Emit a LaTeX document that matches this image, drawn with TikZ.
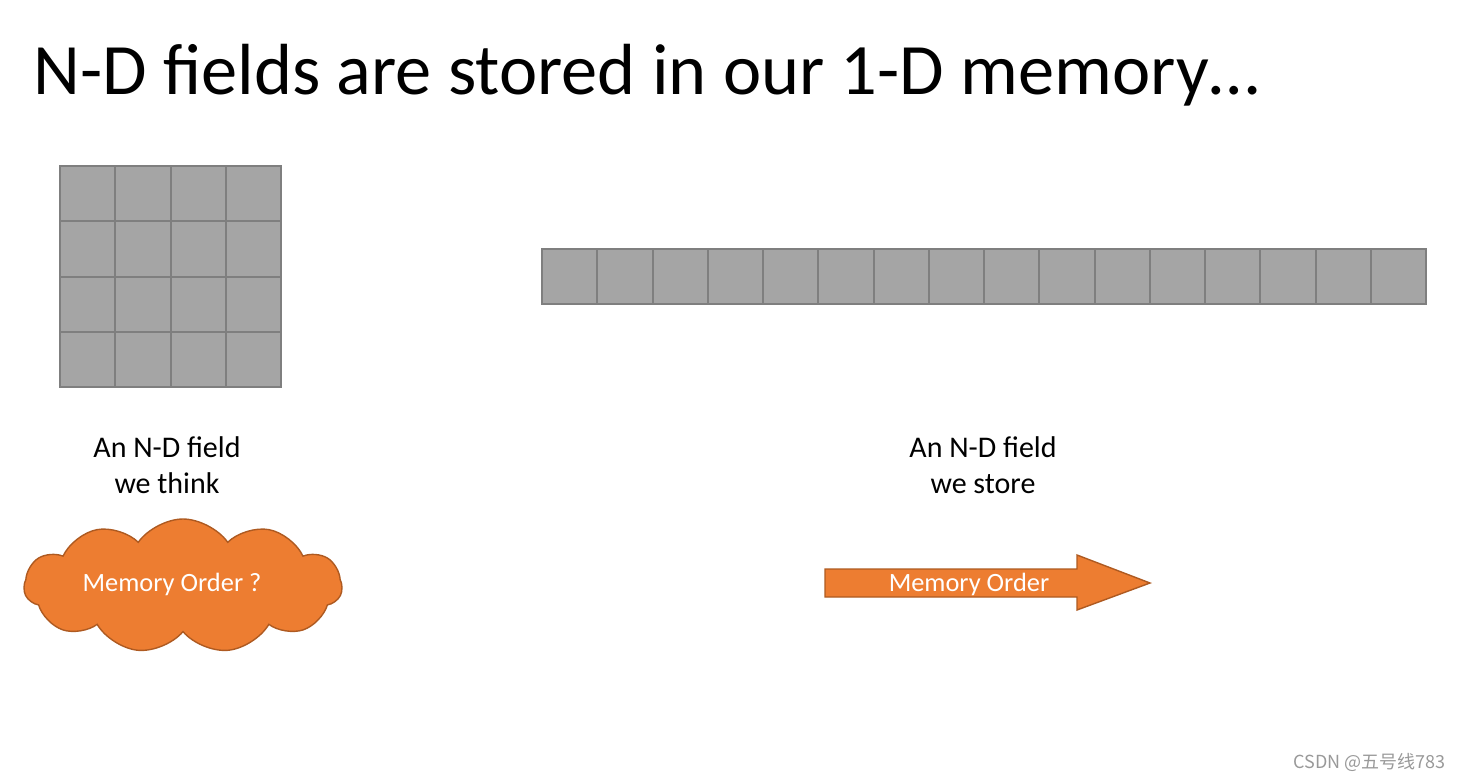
\documentclass[tikz,border=0pt]{standalone}
\usepackage{fontspec}
\setmainfont{Carlito}
\newfontfamily\cjk{Noto Sans CJK SC}
\usepackage{xcolor}
\usetikzlibrary{shapes.symbols, positioning, calc}

\definecolor{cellgray}{HTML}{A5A5A5}
\definecolor{celledge}{HTML}{7F7F7F}
\definecolor{memorange}{HTML}{ED7D31}
\definecolor{memedge}{HTML}{AE5A21}

\begin{document}
\begin{tikzpicture}[x=0.5pt, y=-0.5pt]
  \tikzstyle{cell} = [draw=celledge, fill=cellgray, line width=1pt]
  \tikzstyle{caption} = [align=center, font=\fontsize{15}{18}\selectfont]
  \tikzstyle{memtext} = [text=white, font=\fontsize{13.2}{15}\selectfont]
  \useasboundingbox (0,0) rectangle (1461,781);

  \node[anchor=base west, inner sep=0pt, font=\fontsize{36.2}{40}\selectfont] (Title) at (33,95)
    {N-D fields are stored in our 1-D memory…};

  % the field we think of
  \foreach \i in {0,...,3}
    \foreach \j in {0,...,3}
      \draw[cell] ({60+55.25*\i},{166+55.25*\j}) rectangle ++(55.25,55.25);

  % the field we store
  \foreach \i in {0,...,15}
    \draw[cell] ({542+55.25*\i},249) rectangle ++(55.25,55.25);

  \node[caption] (Think) at (167,465) {An N-D field\\we think};
  \node[caption] (Store) at (983,465) {An N-D field\\we store};

  \node[cloud, cloud puffs=11, cloud puff arc=110, aspect=2.4, draw=memedge, fill=memorange,
        line width=0.7pt, inner sep=0pt, minimum width=159pt, minimum height=67pt] (Cloud) at (183,586) {};
  \node[memtext] (Question) at (172,584) {Memory Order ?};

  \draw[draw=memedge, fill=memorange, line width=0.7pt]
    (825,569) -- (1077,569) -- (1077,555) -- (1150,583) -- (1077,610) -- (1077,597) -- (825,597) -- cycle;
  \node[memtext] (Order) at (969,584) {Memory Order};

  \node[anchor=base east, inner sep=0pt, text=gray!80, font=\cjk\fontsize{9}{11}\selectfont] (Mark) at (1446,768)
    {CSDN @五号线783};
\end{tikzpicture}
\end{document}
